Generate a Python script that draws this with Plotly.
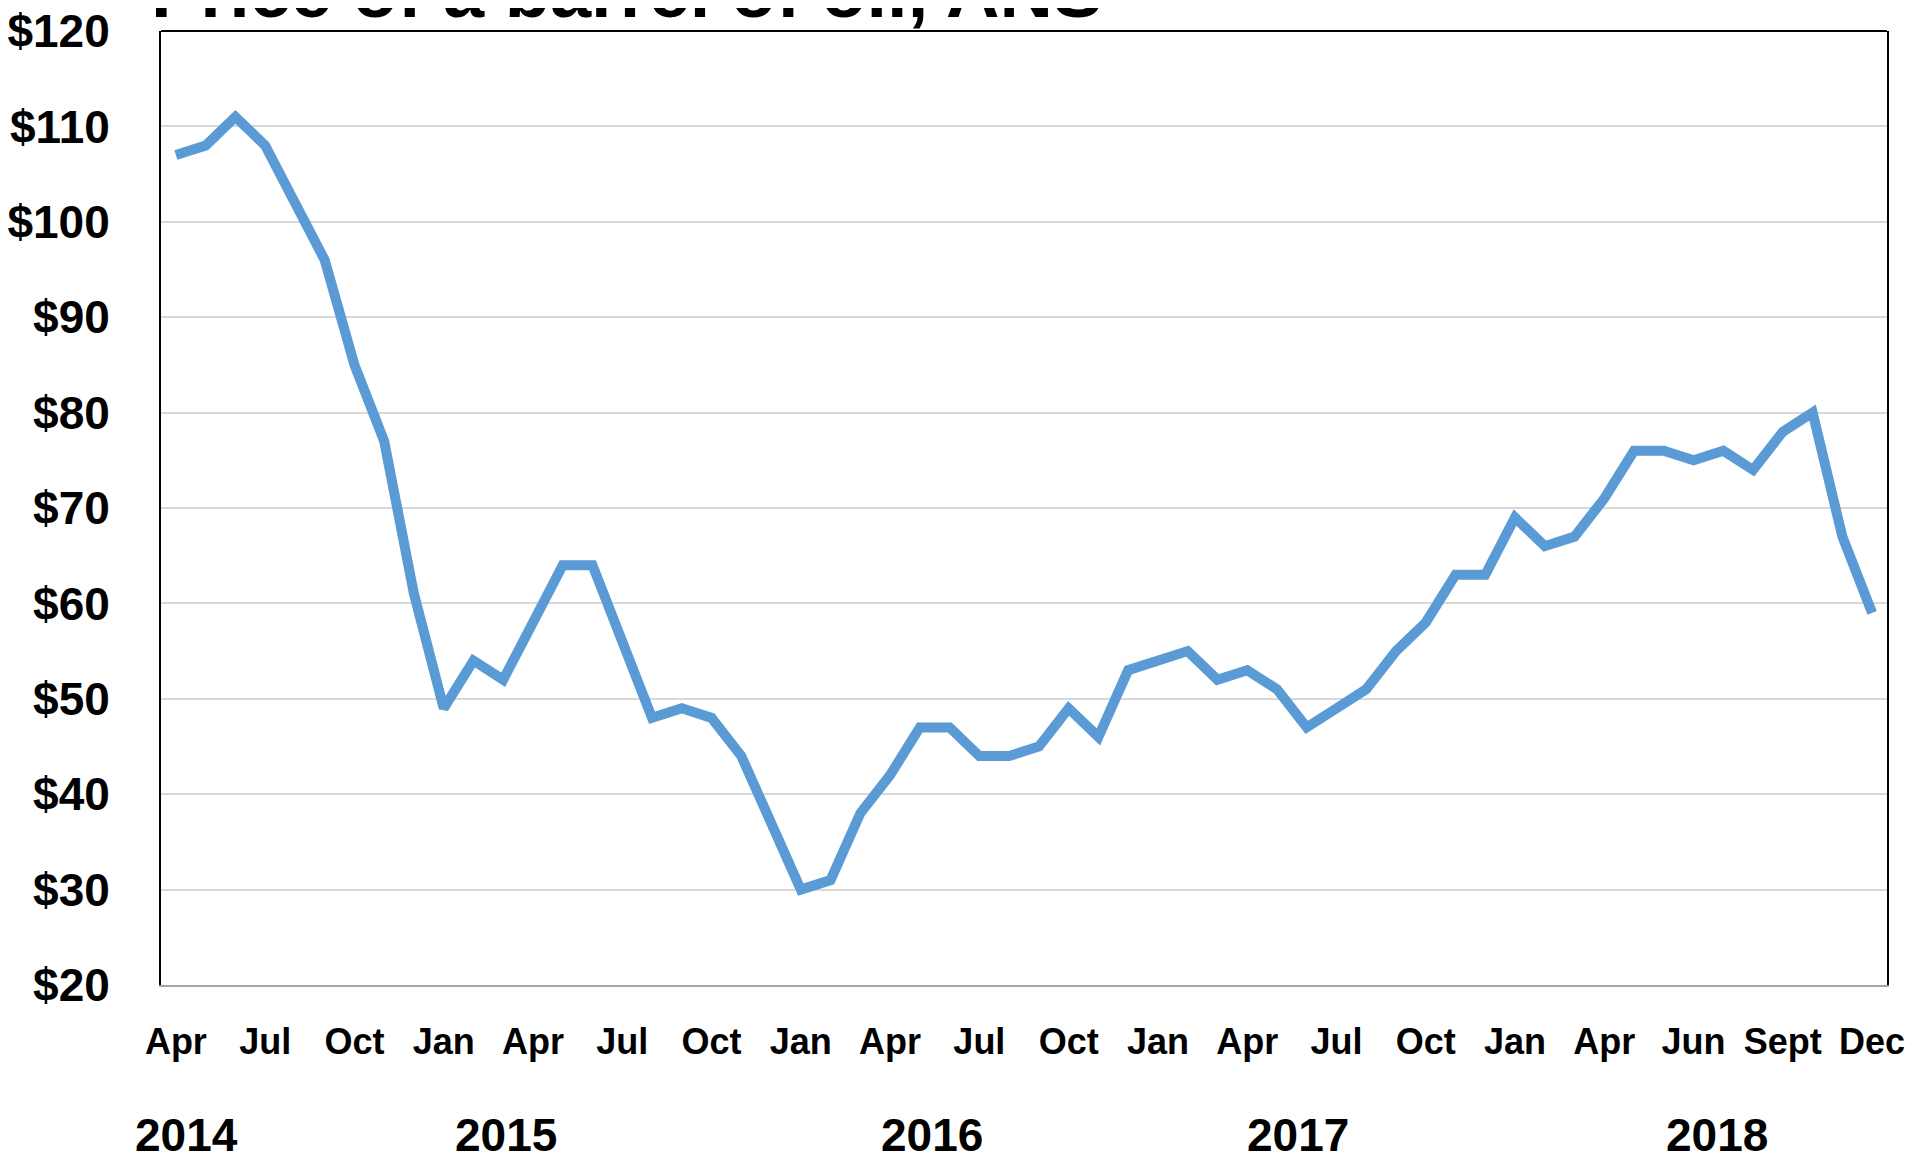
# Price of a barrel of oil, ANS - line chart

import plotly.graph_objects as go

# monthly ANS price, Apr 2014 .. Dec 2018 (58 points as plotted)
price = [107, 108, 111, 108, 102, 96, 85, 77, 61, 49,
         54, 52, 58, 64, 64, 56, 48, 49, 48, 44,
         37, 30, 31, 38, 42, 47, 47, 44, 44, 45,
         49, 46, 53, 54, 55, 52, 53, 51, 47, 49,
         51, 55, 58, 63, 63, 69, 66, 67, 71, 76,
         76, 75, 76, 74, 78, 80, 67, 59]

month_labels = ['Apr', 'Jul', 'Oct', 'Jan', 'Apr', 'Jul', 'Oct', 'Jan', 'Apr', 'Jul',
                'Oct', 'Jan', 'Apr', 'Jul', 'Oct', 'Jan', 'Apr', 'Jun', 'Sept', 'Dec']
years = ['2014', '2015', '2016', '2017', '2018']

idx = list(range(len(price)))
month_ticks = idx[::3]
year_pos = [0.35, 11.1, 25.4, 37.7, 51.8]   # where the year captions sit on the category axis

BOLD = 'Liberation Sans'

fig = go.Figure()
fig.add_trace(go.Scatter(x=idx, y=price, mode='lines',
                         line=dict(color='#5B9BD5', width=10),
                         hoverinfo='y'))

# page body keeps its 8px margin, so the figure is a bit smaller than the window
fig.update_layout(
    width=1899, height=1146,
    margin=dict(l=153, r=20, t=23, b=169),
    plot_bgcolor='white', paper_bgcolor='white',
    showlegend=False,
    font=dict(family=BOLD, color='black'),
)

fig.update_xaxes(range=[-0.5, 57.5], tickvals=month_ticks, ticktext=month_labels,
                 tickfont=dict(family=BOLD, size=36, weight='bold'),
                 ticklabelstandoff=24, showgrid=False, zeroline=False,
                 showline=True, linecolor='#A6A6A6', linewidth=2, ticks='',
                 automargin=False)
fig.update_yaxes(range=[20, 120], dtick=10, tickprefix='$',
                 tickfont=dict(family=BOLD, size=46, weight='bold'),
                 ticklabelstandoff=40, ticklabeloverflow='allow',
                 gridcolor='#D9D9D9', gridwidth=2,
                 zeroline=False, showline=True, linecolor='black', linewidth=2,
                 mirror=True, ticks='', automargin=False)

# top border of the plot frame
fig.add_shape(type='line', xref='paper', yref='paper', x0=0, x1=1, y0=1, y1=1,
              line=dict(color='black', width=2))

for yr, xp in zip(years, year_pos):
    fig.add_annotation(text=yr, x=xp, xref='x', y=0, yref='paper',
                       yanchor='middle', yshift=-150, showarrow=False,
                       font=dict(family=BOLD, size=46, weight='bold'))

fig.add_annotation(text='Price of a barrel of oil, ANS', x=0, xref='paper',
                   xanchor='left', xshift=-12, y=1, yref='paper', yanchor='bottom',
                   yshift=-4, showarrow=False,
                   font=dict(family=BOLD, size=74, weight='bold'))

fig.write_html("out.html")
